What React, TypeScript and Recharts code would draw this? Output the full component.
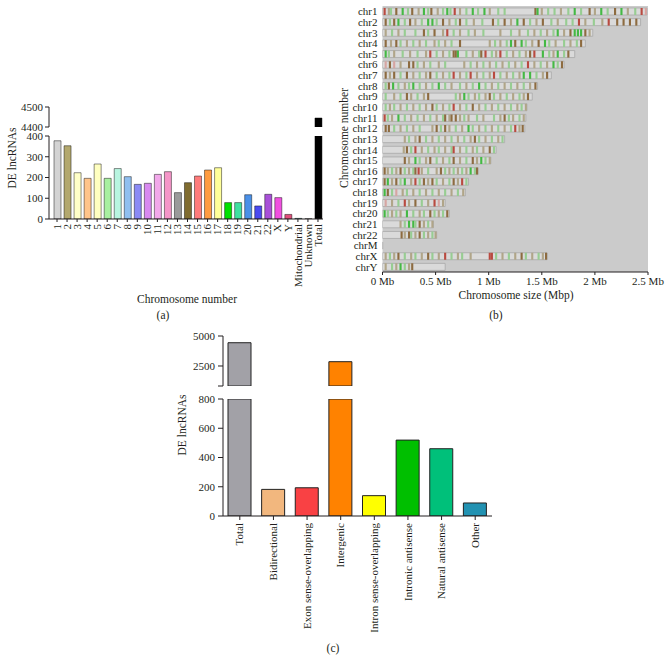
import React from 'react';
import { BarChart, Bar, XAxis, YAxis, Cell, CartesianGrid } from 'recharts';

const FONT = '"Liberation Serif", "Times New Roman", serif';
const INK = '#231f20';

// ---------- Panel (a): DE lncRNAs per chromosome ----------
const chromCategories = ['1', '2', '3', '4', '5', '6', '7', '8', '9', '10', '11', '12', '13', '14', '15', '16', '17', '18', '19', '20', '21', '22', 'X', 'Y', 'Mitochondrial', 'Unknown', 'Total'];
const chromCounts = [377, 353, 223, 196, 265, 196, 243, 204, 167, 172, 215, 228, 127, 175, 207, 236, 247, 79, 79, 117, 63, 119, 103, 22, 3, 1, 4445];
const chromColors = ['#d3d3d3', '#b3a86e', '#ffffc8', '#ffc48a', '#ffffc0', '#a8f0a0', '#b8f5e0', '#90bff0', '#8a8af5', '#d889f0', '#f2a8ea', '#f595c8', '#9a9a9a', '#806c30', '#ff7b7b', '#ff9b40', '#ffff99', '#00e000', '#40e0a0', '#4a90e8', '#4a4af0', '#a850d8', '#f050e0', '#e0507a', '#40a0a0', '#888888', '#000000'];
const aLowerTicks = [0, 100, 200, 300, 400];
const aUpperTicks = [4400, 4500];

// ---------- Panel (b): chromosome map ----------
const chrNames = ['chr1', 'chr2', 'chr3', 'chr4', 'chr5', 'chr6', 'chr7', 'chr8', 'chr9', 'chr10', 'chr11', 'chr12', 'chr13', 'chr14', 'chr15', 'chr16', 'chr17', 'chr18', 'chr19', 'chr20', 'chr21', 'chr22', 'chrM', 'chrX', 'chrY'];
const chrSizes = [2.49, 2.43, 1.98, 1.91, 1.81, 1.71, 1.59, 1.46, 1.41, 1.36, 1.35, 1.34, 1.15, 1.07, 1.02, 0.9, 0.81, 0.78, 0.59, 0.63, 0.48, 0.51, 0.002, 1.55, 0.59];
const chrStripes = [
  '0.01r 0.05o 0.07l 0.12b 0.18g 0.23l 0.27b 0.33o 0.38g 0.42l 0.45b 0.51o 0.56l 0.6g 0.63l 0.67r 0.72o 0.78l 0.84g 0.89l 0.95g 1.0o 1.08l 1.14l 1.43b 1.45g 1.49o 1.55l 1.61l 1.67o 1.74l 1.8g 1.86l 1.94b 1.99o 2.05g 2.11l 2.18b 2.24g 2.3o 2.37l 2.43r 2.47p',
  '0.02b 0.06l 0.1b 0.14g 0.2l 0.25b 0.3o 0.36l 0.42g 0.46g 0.5l 0.56b 0.62o 0.68l 0.72b 0.78l 0.85o 0.93l 1.03b 1.08l 1.14b 1.2o 1.26g 1.32b 1.38l 1.44o 1.5b 1.58l 1.64o 1.72l 1.78l 1.84r 1.9o 1.98l 2.06o 2.12r 2.2b 2.26b 2.32b 2.38b',
  '0.02o 0.08l 0.14o 0.2l 0.3l 0.38b 0.42l 0.48b 0.56o 0.6r 0.66l 0.72o 0.8l 0.86o 0.94l 1.1o 1.2l 1.28o 1.36l 1.42o 1.48l 1.54o 1.6l 1.64g 1.7o 1.76b 1.8g 1.83g 1.86g 1.9b 1.94o',
  '0.02b 0.07o 0.12b 0.16l 0.22o 0.28l 0.34o 0.4l 0.48o 0.52l 0.58o 0.64l 0.72b 1.0o 1.05l 1.1o 1.16l 1.2g 1.24b 1.3g 1.34l 1.4o 1.46b 1.52g 1.56l 1.62o 1.7l 1.76o 1.82l 1.86b',
  '0.02g 0.05l 0.1o 0.18l 0.25o 0.32l 0.4o 0.44r 0.5l 0.56o 0.62l 0.66b 0.68b 0.7g 0.78l 0.84o 0.9l 0.92b 0.96r 1.02l 1.06o 1.1r 1.16l 1.22o 1.28l 1.34o 1.38b 1.42r 1.5g 1.56l 1.6o 1.64g 1.7l 1.74b',
  '0.02p 0.06b 0.1p 0.16o 0.24b 0.28b 0.32l 0.38o 0.44l 0.52o 0.58l 0.76o 0.82l 0.88o 0.94l 1.0o 1.06l 1.12o 1.18l 1.24o 1.3l 1.36r 1.42o 1.48l 1.54o 1.6g 1.64l 1.68b',
  '0.02b 0.06o 0.1b 0.16l 0.22b 0.28o 0.34l 0.4o 0.44b 0.5l 0.56o 0.62l 0.66r 0.72o 0.78l 0.82r 0.88o 0.94l 1.0o 1.04r 1.1l 1.16o 1.22l 1.28o 1.32g 1.38g 1.44l 1.5o 1.54b',
  '0.02l 0.05b 0.09g 0.14l 0.2o 0.24l 0.28g 0.34l 0.4o 0.46l 0.52g 0.58l 0.64o 0.72l 0.78o 0.84l 0.9g 0.96l 1.02o 1.08l 1.14o 1.2l 1.26o 1.32l 1.38o 1.43b',
  '0.02l 0.1o 0.16l 0.22b 0.26o 0.32l 0.38o 0.42b 0.68l 0.72o 0.76g 0.8l 0.86o 0.9l 0.96o 1.0b 1.04l 1.1o 1.16l 1.22o 1.28l 1.32o 1.36b',
  '0.02l 0.06o 0.1l 0.16o 0.22l 0.28o 0.34l 0.4o 0.46b 0.5l 0.56o 0.62l 0.66r 0.72o 0.78l 0.84b 0.9o 0.96l 1.02o 1.08l 1.14o 1.2l 1.26o 1.3l 1.34o',
  '0.01r 0.04l 0.08o 0.14g 0.2l 0.26o 0.32l 0.38o 0.44l 0.5o 0.56l 0.58b 0.62o 0.64b 0.68b 0.72o 0.76l 0.8o 0.88l 0.94o 1.04l 1.1o 1.14b 1.18l 1.22o 1.28l 1.32o',
  '0.02b 0.05b 0.1l 0.16o 0.22l 0.28o 0.34l 0.46o 0.5b 0.54l 0.58b 0.62o 0.68l 0.74o 0.8g 0.84l 0.9o 0.96l 1.02o 1.08l 1.14o 1.2l 1.24r 1.28o 1.31b',
  '0.2o 0.24l 0.3o 0.34b 0.4l 0.46o 0.52l 0.58o 0.64l 0.7o 0.76l 0.82o 0.86b 0.9l 0.96o 1.02l 1.08o 1.12l',
  '0.19o 0.22b 0.26l 0.3r 0.36o 0.42l 0.48o 0.52l 0.58o 0.64l 0.66r 0.72o 0.78l 0.84o 0.88l 0.94o 1.0b 1.04l',
  '0.2b 0.24o 0.3g 0.34l 0.4o 0.44b 0.5l 0.56o 0.62l 0.66b 0.72o 0.78l 0.84b 0.88o 0.92g 0.96l 1.0o',
  '0.01b 0.04o 0.08l 0.12o 0.16b 0.2l 0.24o 0.28l 0.3b 0.33r 0.36o 0.42l 0.5o 0.54b 0.58l 0.62o 0.66l 0.7o 0.74l 0.78o 0.82g 0.86l 0.88b',
  '0.01b 0.04g 0.08o 0.12b 0.16l 0.2g 0.26o 0.3r 0.34l 0.38b 0.42o 0.46b 0.5l 0.56o 0.62l 0.66b 0.7o 0.74r 0.78l',
  '0.01g 0.04b 0.08l 0.12p 0.18o 0.22l 0.28o 0.34l 0.4o 0.46l 0.52o 0.58l 0.64o 0.7l 0.75o',
  '0.02p 0.08o 0.14l 0.2r 0.24o 0.3b 0.36l 0.42o 0.48r 0.52p 0.56o',
  '0.01g 0.04l 0.08o 0.12l 0.16o 0.22g 0.28l 0.34o 0.38l 0.44b 0.48l 0.52o 0.56l 0.6b',
  '0.16o 0.2l 0.24g 0.28g 0.3l 0.34b 0.38o 0.42l 0.46o',
  '0.17b 0.2o 0.24b 0.26l 0.3o 0.34b 0.38l 0.42o 0.46l 0.49o',
  '',
  '0.02o 0.06l 0.1o 0.14b 0.2l 0.26o 0.3l 0.36o 0.42b 0.46l 0.52o 0.58r 0.64l 0.7o 0.74l 0.82o 1.0r 1.02r 1.06l 1.12o 1.18l 1.24o 1.3b 1.34l 1.4o 1.46l 1.5o 1.53b',
  '0.02o 0.08l 0.12o 0.16g 0.2l 0.24o 0.27b',
];
const stripeWidthMb = 0.02;
const sizeTicks = [0, 0.5, 1, 1.5, 2, 2.5];

// ---------- Panel (c): lncRNA classes ----------
const classNames = ['Total', 'Bidirectional', 'Exon sense-overlapping', 'Intergenic', 'Intron sense-overlapping', 'Intronic antisense', 'Natural antisense', 'Other'];
const classCounts = [4440, 182, 193, 2858, 139, 519, 460, 89];
const classColors = ['#a2a1a7', '#f2b77e', '#f94144', '#ff8200', '#ffff00', '#00bf00', '#00c07a', '#2292b2'];
const cLowerTicks = [0, 200, 400, 600, 800];
const cUpperTicks = [833, 2500, 5000];

const stripePalette: Record<string, string> = {
  l: '#97cd92', g: '#44b944', b: '#8d6b40', r: '#b94a40', p: '#d6a5a2', o: '#b0a588',
};

// ---------- derived tables ----------
const aRows = chromCategories.map((name, i) => ({ name, v: chromCounts[i] }));
const cRows = classNames.map((name, i) => ({ name, v: classCounts[i] }));

const parsedStripes = chrStripes.map((s) =>
  s.trim() ? s.trim().split(/\s+/).map((t) => ({ pos: parseFloat(t), c: t.slice(-1) })) : []
);
const maxStripes = Math.max(...parsedStripes.map((p) => p.length));
const baseRows = chrNames.map((name, i) => ({ name, size: chrSizes[i] }));
const stripeRows = chrNames.map((name, i) => {
  const row: Record<string, any> = { name };
  let cursor = 0;
  for (let k = 0; k < maxStripes; k++) {
    const s = parsedStripes[i][k];
    if (!s) {
      row[`g${k}`] = 0;
      row[`s${k}`] = 0;
      continue;
    }
    const gap = Math.max(0, s.pos - cursor);
    const w = Math.max(0, Math.min(stripeWidthMb, chrSizes[i] - (cursor + gap)));
    row[`g${k}`] = gap;
    row[`s${k}`] = w;
    cursor += gap + w;
  }
  return row;
});

const axisLine = { stroke: INK, strokeWidth: 1 };
const tickStyle = { fontSize: 11, fill: INK, fontFamily: FONT };

const RotTick = (props: any) => {
  const { x, y, payload } = props;
  return (
    <g transform={`translate(${x},${y})`}>
      <text transform="rotate(-90)" textAnchor="end" dy="0.33em" x={0} y={0} fontSize={11} fill={INK} fontFamily={FONT}>
        {payload.value}
      </text>
    </g>
  );
};

const Txt = ({ x, y, children, rotate = false, size = 11.5 }: any) => (
  <div
    style={{
      position: 'absolute', left: x, top: y,
      transform: `translate(-50%,-50%)${rotate ? ' rotate(-90deg)' : ''}`,
      fontSize: size, whiteSpace: 'nowrap', color: INK, lineHeight: 1, fontFamily: FONT,
    }}
  >
    {children}
  </div>
);

const abs = (left: number, top: number): React.CSSProperties => ({ position: 'absolute', left, top });

export default function App() {
  return (
    <div style={{ position: 'absolute', left: 0, top: 0, width: 670, height: 671, background: '#fff', fontFamily: FONT, overflow: 'hidden' }}>
      {/* Panel (a) lower segment */}
      <div style={abs(0, 130)}>
        <BarChart width={340} height={169} data={aRows} margin={{ top: 6, right: 17, bottom: 0, left: 0 }} barSize={7}>
          <XAxis dataKey="name" interval={0} height={80} padding={{ left: 3, right: 0 }}
            tick={(p: any) => <RotTick {...p} />} tickSize={3} tickMargin={2} axisLine={axisLine} tickLine={axisLine} />
          <YAxis type="number" domain={[0, 400]} ticks={aLowerTicks} width={49} allowDataOverflow interval={0}
            tick={tickStyle} tickSize={4} tickMargin={2} axisLine={axisLine} tickLine={axisLine} />
          <Bar dataKey={(d: any) => Math.min(d.v, 400)} isAnimationActive={false} stroke="rgba(0,0,0,0.45)" strokeWidth={1}>
            {aRows.map((r, i) => <Cell key={r.name} fill={chromColors[i]} />)}
          </Bar>
        </BarChart>
      </div>
      {/* Panel (a) upper segment */}
      <div style={abs(0, 98)}>
        <BarChart width={340} height={37} data={aRows} margin={{ top: 9, right: 17, bottom: 8, left: 0 }} barSize={7}>
          <XAxis dataKey="name" hide padding={{ left: 3, right: 0 }} />
          <YAxis type="number" domain={[4400, 4500]} ticks={aUpperTicks} width={49} allowDataOverflow interval={0}
            tick={tickStyle} tickSize={4} tickMargin={2} axisLine={axisLine} tickLine={axisLine} />
          <Bar dataKey={(d: any) => (d.v > 4400 ? d.v : null)} isAnimationActive={false} stroke="rgba(0,0,0,0.45)" strokeWidth={1}>
            {aRows.map((r, i) => <Cell key={r.name} fill={chromColors[i]} />)}
          </Bar>
        </BarChart>
      </div>
      <Txt x={13} y={158} rotate>DE lncRNAs</Txt>
      <Txt x={187} y={300}>Chromosome number</Txt>
      <Txt x={163} y={316}>(a)</Txt>

      {/* Panel (b) base chromosomes */}
      <div style={abs(340, 0)}>
        <BarChart width={330} height={292} data={baseRows} layout="vertical" margin={{ top: 6, right: 22, bottom: 0, left: 0 }} barSize={7}>
          <CartesianGrid horizontal={false} vertical={false} fill="#cbcbcb" stroke="none" />
          <XAxis type="number" domain={[0, 2.5]} ticks={sizeTicks} allowDataOverflow interval={0} height={20}
            tickFormatter={(v: number) => `${v} Mb`} tick={tickStyle} tickSize={3} tickMargin={2} axisLine={axisLine} tickLine={axisLine} />
          <YAxis type="category" dataKey="name" width={42.5} interval={0} tick={tickStyle} tickSize={0} tickMargin={5} axisLine={false} tickLine={false} />
          <Bar dataKey="size" fill="#dadada" stroke="#a8a8a8" strokeWidth={0.8} isAnimationActive={false} />
        </BarChart>
      </div>
      {/* Panel (b) lncRNA stripes overlay */}
      <div style={{ ...abs(340, 0), pointerEvents: 'none' }}>
        <BarChart width={330} height={292} data={stripeRows} layout="vertical" margin={{ top: 6, right: 22, bottom: 0, left: 0 }} barSize={7}>
          <XAxis type="number" domain={[0, 2.5]} ticks={sizeTicks} allowDataOverflow height={20} tick={false} axisLine={false} tickLine={false} />
          <YAxis type="category" dataKey="name" width={42.5} tick={false} axisLine={false} tickLine={false} />
          {Array.from({ length: maxStripes }).flatMap((_, k) => [
            <Bar key={`g${k}`} dataKey={`g${k}`} stackId="s" fill="transparent" isAnimationActive={false} />,
            <Bar key={`s${k}`} dataKey={`s${k}`} stackId="s" isAnimationActive={false}>
              {stripeRows.map((r, i) => (
                <Cell key={r.name} fill={parsedStripes[i][k] ? stripePalette[parsedStripes[i][k].c] : 'transparent'} />
              ))}
            </Bar>,
          ])}
        </BarChart>
      </div>
      <Txt x={345} y={138} rotate>Chromosome number</Txt>
      <Txt x={516} y={296}>Chromosome size (Mbp)</Txt>
      <Txt x={496} y={316}>(b)</Txt>

      {/* Panel (c) lower segment */}
      <div style={abs(160, 390)}>
        <BarChart width={340} height={246} data={cRows} margin={{ top: 9, right: 8, bottom: 0, left: 0 }} barSize={23}>
          <XAxis dataKey="name" interval={0} height={120}
            tick={(p: any) => <RotTick {...p} />} tickSize={4} tickMargin={3} axisLine={axisLine} tickLine={axisLine} />
          <YAxis type="number" domain={[0, 800]} ticks={cLowerTicks} width={63} allowDataOverflow interval={0}
            tick={tickStyle} tickSize={5} tickMargin={3} axisLine={axisLine} tickLine={axisLine} />
          <Bar dataKey={(d: any) => Math.min(d.v, 800)} isAnimationActive={false} stroke="#222" strokeWidth={1}>
            {cRows.map((r, i) => <Cell key={r.name} fill={classColors[i]} />)}
          </Bar>
        </BarChart>
      </div>
      {/* Panel (c) upper segment */}
      <div style={abs(160, 326)}>
        <BarChart width={340} height={66} data={cRows} margin={{ top: 10, right: 8, bottom: 6, left: 0 }} barSize={23}>
          <XAxis dataKey="name" hide />
          <YAxis type="number" domain={[833, 5000]} ticks={cUpperTicks} width={63} allowDataOverflow interval={0}
            tickFormatter={(v: number) => (v < 1000 ? '' : String(v))}
            tick={tickStyle} tickSize={5} tickMargin={3} axisLine={axisLine} tickLine={axisLine} />
          <Bar dataKey={(d: any) => (d.v > 833 ? d.v : null)} isAnimationActive={false} stroke="#222" strokeWidth={1}>
            {cRows.map((r, i) => <Cell key={r.name} fill={classColors[i]} />)}
          </Bar>
        </BarChart>
      </div>
      <Txt x={183} y={425} rotate>DE lncRNAs</Txt>
      <Txt x={333} y={649}>(c)</Txt>
    </div>
  );
}
